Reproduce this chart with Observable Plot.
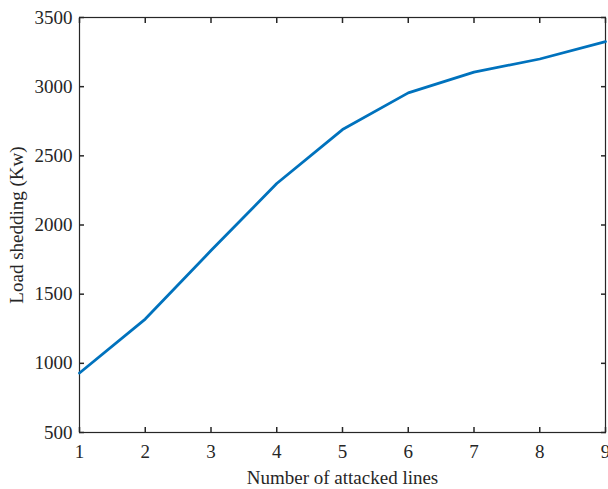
<!DOCTYPE html>
<html>
<head>
<meta charset="utf-8">
<script src="https://cdn.jsdelivr.net/npm/d3@7"></script>
<script src="https://cdn.jsdelivr.net/npm/@observablehq/plot@0.6"></script>
<style>
  html, body { margin: 0; padding: 0; background: #fff; }
  svg { display: block; }
</style>
</head>
<body>
<div id="chart"></div>
<script>
const attackedLines = [1, 2, 3, 4, 5, 6, 7, 8, 9];
const loadShedding = [930, 1320, 1815, 2300, 2690, 2955, 3105, 3200, 3325];
const xTicks = [1, 2, 3, 4, 5, 6, 7, 8, 9];
const yTicks = [500, 1000, 1500, 2000, 2500, 3000, 3500];

const data = attackedLines.map((x, i) => ({x, y: loadShedding[i]}));

const chart = Plot.plot({
  width: 608,
  height: 489,
  marginLeft: 79,
  marginRight: 3,
  marginTop: 17,
  marginBottom: 57,
  style: {fontFamily: "'Liberation Serif', 'Times New Roman', serif", fontSize: "19px", color: "#262626", background: "#fff"},
  x: {domain: [1, 9]},
  y: {domain: [500, 3500]},
  marks: [
    Plot.frame({stroke: "#262626", strokeWidth: 1.2}),
    Plot.axisX({ticks: xTicks, tickSize: -5, tickPadding: 17, tickFormat: d3.format("d"), label: "Number of attacked lines", labelAnchor: "center", labelArrow: "none", labelOffset: 51, stroke: "#262626", strokeWidth: 1.5}),
    Plot.axisX({anchor: "top", ticks: xTicks, tickSize: -5, tickFormat: () => "", label: null, stroke: "#262626", strokeWidth: 1.5}),
    Plot.axisY({ticks: yTicks, tickSize: -5, tickPadding: 12, tickFormat: d3.format("d"), label: "Load shedding (Kw)", labelAnchor: "center", labelArrow: "none", labelOffset: 70, stroke: "#262626", strokeWidth: 1.5}),
    Plot.axisY({anchor: "right", ticks: yTicks, tickSize: -5, tickFormat: () => "", label: null, stroke: "#262626", strokeWidth: 1.5}),
    Plot.line(data, {x: "x", y: "y", stroke: "#0072BD", strokeWidth: 2.8})
  ]
});
document.getElementById("chart").append(chart);
</script>
</body>
</html>
